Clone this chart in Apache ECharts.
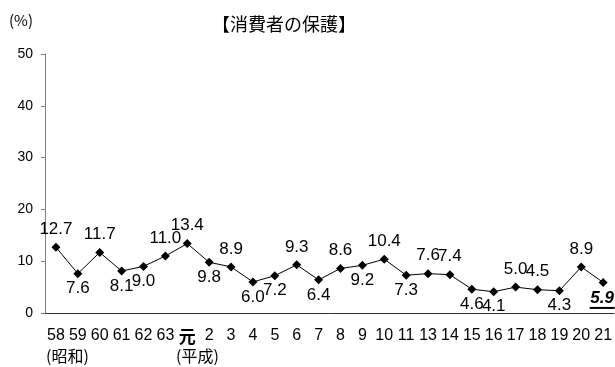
<!DOCTYPE html>
<html><head><meta charset="utf-8">
<script src="https://cdn.jsdelivr.net/npm/echarts@6/dist/echarts.min.js"></script>
<style>html,body{margin:0;padding:0;background:#fff}#c{width:615px;height:367px}</style>
</head><body><div id="c"></div>
<script>
const categories = ['58','59','60','61','62','63','元','2','3','4','5','6','7','8','9','10','11','13','14','15','16','17','18','19','20','21'];
const values = [12.7,7.6,11.7,8.1,9.0,11.0,13.4,9.8,8.9,6.0,7.2,9.3,6.4,8.6,9.2,10.4,7.3,7.6,7.4,4.6,4.1,5.0,4.5,4.3,8.9,5.9];
const labelSide = ['top','bottom','top','bottom','bottom','top','top','bottom','top','bottom','bottom','top','bottom','top','bottom','top','bottom','top','top','bottom','bottom','top','top','bottom','top','bottom'];
const yTicks = [0,10,20,30,40,50];

const chart = echarts.init(document.getElementById('c'), null, {renderer:'canvas'});
const numFont = '"Liberation Sans",Arial,sans-serif';
const cjk = '"Noto Sans CJK JP",sans-serif';
const data = values.map((v,i)=>{
  const last = i === values.length-1;
  const o = {value:v, label:{position:labelSide[i], distance: labelSide[i]==='top'?5:2}};
  if (last) {
    o.label.formatter = '{b|5.9}\n{u|}';
    o.label.distance = 3;
    o.label.offset = [-1,0];
  }
  return o;
});
chart.setOption({
  animation:false,
  title:{text:'【消費者の保護】', left:207, top:10, textStyle:{fontFamily:cjk, fontSize:18, fontWeight:'normal', color:'#000'}},
  grid:{left:45, top:54, width:572, height:259, containLabel:false},
  xAxis:{type:'category', data:categories, boundaryGap:true,
    axisLine:{lineStyle:{color:'#333', width:1}},
    axisTick:{inside:true, length:5, lineStyle:{color:'#333'}},
    axisLabel:{color:'#000', fontSize:16, fontFamily:numFont, margin:15, interval:0,
      formatter: v => v==='元' ? '{k|元}' : v,
      rich:{k:{fontFamily:cjk, fontSize:17, fontWeight:'bold', color:'#000'}}}
  },
  yAxis:{type:'value', min:0, max:50, interval:10,
    axisLine:{show:true, lineStyle:{color:'#808080', width:1}},
    axisTick:{show:true, inside:false, length:4, lineStyle:{color:'#808080'}},
    splitLine:{show:false},
    axisLabel:{color:'#000', fontSize:14, fontFamily:numFont, margin:12}
  },
  series:[{type:'line', data:data, symbol:'diamond', symbolSize:9,
    lineStyle:{color:'#000', width:1}, itemStyle:{color:'#000'},
    label:{show:true, color:'#000', fontSize:17, fontFamily:numFont,
      formatter: p => p.value.toFixed(1),
      rich:{b:{fontSize:17, fontFamily:numFont, fontWeight:'bold', fontStyle:'italic', color:'#000'},
            u:{height:2, width:25, backgroundColor:'#000', lineHeight:2}}}
  }],
  graphic:[
    {type:'text', left:9, top:13, style:{text:'(%)', fontSize:15, fontFamily:cjk, fill:'#000'}},
    {type:'text', left:46, top:348, style:{text:'(昭和)', fontSize:16, fontFamily:cjk, fill:'#000'}},
    {type:'text', left:176, top:348, style:{text:'(平成)', fontSize:16, fontFamily:cjk, fill:'#000'}}
  ]
});
</script></body></html>
